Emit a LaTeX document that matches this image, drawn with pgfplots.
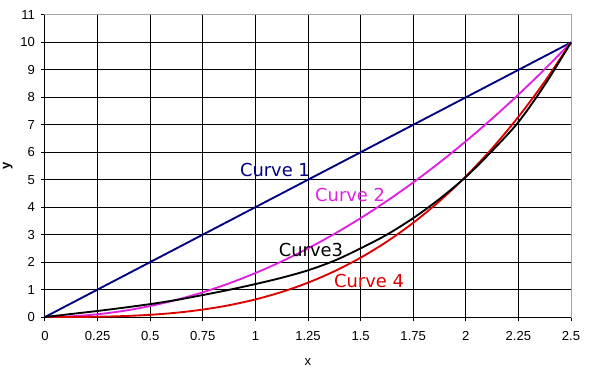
\documentclass[border=0pt]{standalone}
\usepackage{pgfplots}
\pgfplotsset{compat=1.18}
\usepackage{fontspec}
\setmainfont{Liberation Sans}
\newfontfamily\dvs{DejaVu Sans}
\definecolor{c1}{RGB}{0,0,128}
\definecolor{c2}{RGB}{224,32,224}
\definecolor{c4}{RGB}{220,0,0}
\begin{document}
\begin{tikzpicture}
\begin{axis}[
  name=ax,
  scale only axis,
  width=394.5pt, height=226.5pt,
  xmin=0, xmax=2.5, ymin=0, ymax=11,
  xtick={0,0.25,...,2.5},
  xticklabels={0,0.25,0.5,0.75,1,1.25,1.5,1.75,2,2.25,2.5},
  ytick={0,1,...,11},
  grid=major,
  grid style={black, line width=0.75pt},
  axis line style={gray!70, line width=0.75pt},
  tick pos=left,
  tick align=outside,
  major tick length=3pt,
  tick style={black, line width=0.75pt},
  /pgf/number format/assume math mode=true,
  tick label style={font=\fontsize{9.8}{11}\selectfont},
  xticklabel style={yshift=-4.5pt},
  yticklabel style={xshift=-1pt},
  xlabel={x}, ylabel={\textbf{y}},
  label style={font=\fontsize{9.8}{11}\selectfont},
  xlabel style={yshift=-6pt},
  ylabel style={yshift=-1pt},
  clip=false,
]
\draw[black, line width=0.75pt] (axis cs:0,11) -- (axis cs:0,0) -- (axis cs:2.5,0);
\addplot[c1, line width=1.4pt] coordinates {(0,0) (0.5,2) (1,4) (1.5,6) (2,8) (2.5,10)};
\addplot[c2, line width=1.4pt, smooth] coordinates {
(0,0) (0.125,0.025) (0.25,0.1) (0.375,0.225) (0.5,0.4) (0.625,0.625) (0.75,0.9) (0.875,1.225)
(1,1.6) (1.125,2.025) (1.25,2.5) (1.375,3.025) (1.5,3.6) (1.625,4.225) (1.75,4.9) (1.875,5.625)
(2,6.4) (2.125,7.225) (2.25,8.1) (2.375,9.025) (2.5,10)};
\addplot[c4, line width=1.4pt, smooth] coordinates {
(0,0) (0.125,0.001) (0.25,0.01) (0.375,0.034) (0.5,0.08) (0.625,0.156) (0.75,0.27) (0.875,0.429)
(1,0.64) (1.125,0.911) (1.25,1.25) (1.375,1.664) (1.5,2.16) (1.625,2.746) (1.75,3.43) (1.875,4.219)
(2,5.12) (2.125,6.141) (2.25,7.29) (2.375,8.574) (2.5,10)};
\addplot[black, line width=1.4pt, smooth] coordinates {
(0,0) (0.125,0.11) (0.25,0.22) (0.375,0.34) (0.5,0.47) (0.625,0.62) (0.75,0.8) (0.875,0.99)
(1,1.2) (1.125,1.43) (1.25,1.7) (1.375,2.05) (1.5,2.5) (1.625,3.0) (1.75,3.6) (1.875,4.3)
(2,5.1) (2.125,6.05) (2.25,7.1) (2.375,8.45) (2.5,10)};
\node[c1, font=\dvs\fontsize{13.4}{14}\selectfont] at (axis cs:1.093,5.36) {Curve 1};
\node[c2, font=\dvs\fontsize{13.4}{14}\selectfont] at (axis cs:1.45,4.44) {Curve 2};
\node[black, font=\dvs\fontsize{13.4}{14}\selectfont] at (axis cs:1.264,2.44) {Curve3};
\node[c4, font=\dvs\fontsize{13.4}{14}\selectfont] at (axis cs:1.54,1.31) {Curve 4};
\end{axis}
\pgfresetboundingbox
\path ([xshift=-33.75pt,yshift=-42.75pt]ax.south west) rectangle ([xshift=15pt,yshift=11.25pt]ax.north east);
\end{tikzpicture}
\end{document}
